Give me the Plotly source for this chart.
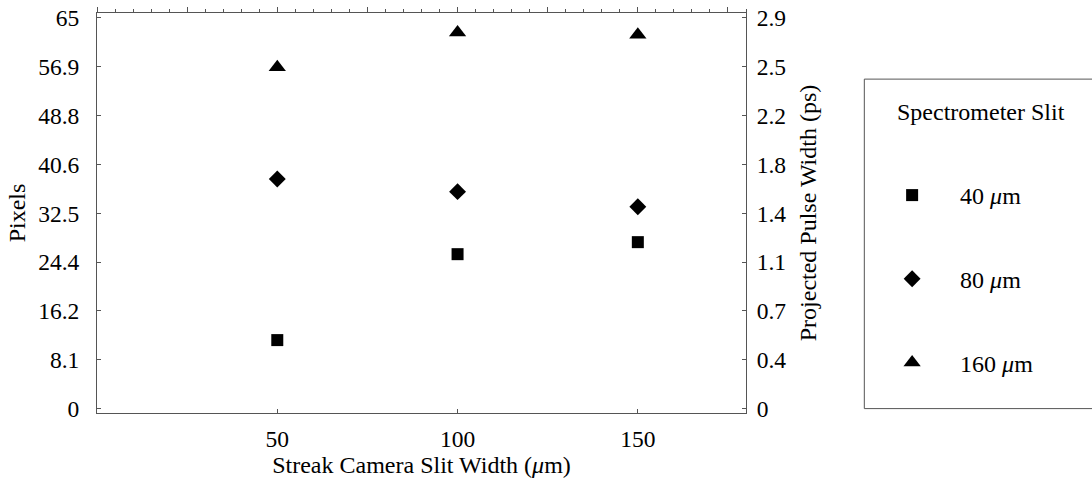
import plotly.graph_objects as go

# Streak camera slit widths (µm)
slit_width = [50, 100, 150]

# Measured widths in pixels for each spectrometer slit
pixels_40um = [11.4, 25.7, 27.7]
pixels_80um = [38.2, 36.1, 33.6]
pixels_160um = [56.8, 62.6, 62.2]

series_names = ["40 <i>μ</i>m", "80 <i>μ</i>m", "160 <i>μ</i>m"]
series_symbols = ["square", "diamond", "triangle-up"]
series_sizes = [12, 13, 15]

# Left axis ticks (pixels) and matching right axis labels (ps)
pixel_ticks = [0, 8.125, 16.25, 24.375, 32.5, 40.625, 48.75, 56.875, 65]
pixel_tick_text = ["0", "8.1", "16.2", "24.4", "32.5", "40.6", "48.8", "56.9", "65"]
ps_tick_text = ["0", "0.4", "0.7", "1.1", "1.4", "1.8", "2.2", "2.5", "2.9"]

FONT = "Liberation Serif"
AX = "#555555"
YRANGE = [-0.73, 65.83]
XRANGE = [0, 180]
TICK_FONT = dict(family=FONT, size=23.5, color="black")
TITLE_FONT = dict(family=FONT, size=24, color="black")
LEGEND_FONT = dict(family=FONT, size=24, color="black")

fig = go.Figure()

for i, (name, vals) in enumerate(zip(series_names, [pixels_40um, pixels_80um, pixels_160um])):
    fig.add_trace(go.Scatter(
        x=slit_width, y=vals, mode="markers", name=name,
        legendgroup=f"g{i}",
        marker=dict(symbol=series_symbols[i], size=series_sizes[i], color="black",
                    line=dict(width=0)),
    ))

# empty trace so the top/right axes get their own subplot
fig.add_trace(go.Scatter(x=[], y=[], xaxis="x2", yaxis="y2", showlegend=False,
                         hoverinfo="skip"))

fig.update_layout(
    width=1092, height=485,
    margin=dict(l=97, r=346.3, t=13.3, b=72.3, autoexpand=False),
    paper_bgcolor="white", plot_bgcolor="white",
    font=dict(family=FONT, size=24, color="black"),
    showlegend=True,
    xaxis=dict(
        range=XRANGE, tickvals=slit_width, ticks="inside", ticklen=4, tickcolor=AX,
        showline=True, linecolor=AX, linewidth=1, showgrid=False, zeroline=False,
        tickfont=TICK_FONT,
        title=dict(text="Streak Camera Slit Width (<i>μ</i>m)", standoff=4, font=TITLE_FONT),
        ticklabelstandoff=5,
    ),
    xaxis2=dict(
        range=XRANGE, overlaying="x", side="top", anchor="y",
        tickvals=list(range(0, 181, 25)), ticks="outside", ticklen=5, tickcolor=AX,
        minor=dict(dtick=5, tick0=0, ticks="outside", ticklen=3, tickcolor=AX),
        showticklabels=False, showline=True, linecolor=AX, linewidth=1,
        showgrid=False, zeroline=False,
    ),
    yaxis=dict(
        range=YRANGE, tickvals=pixel_ticks, ticktext=pixel_tick_text,
        ticks="inside", ticklen=4, tickcolor=AX, tickfont=TICK_FONT,
        showline=True, linecolor=AX, linewidth=1, showgrid=False, zeroline=False,
        title=dict(text="Pixels", standoff=5, font=TITLE_FONT), ticklabelstandoff=12,
    ),
    yaxis2=dict(
        range=YRANGE, overlaying="y", side="right", anchor="x",
        tickvals=pixel_ticks, ticktext=ps_tick_text,
        ticks="inside", ticklen=4, tickcolor=AX, tickfont=TICK_FONT,
        showline=True, linecolor=AX, linewidth=1, showgrid=False, zeroline=False,
        title=dict(text="Projected Pulse Width (ps)", standoff=13, font=TITLE_FONT),
        ticklabelstandoff=5,
    ),
    legend=dict(
        x=1.182, y=0.600, xanchor="left", yanchor="top",
        bgcolor="rgba(0,0,0,0)", borderwidth=0,
        itemwidth=86, tracegroupgap=49.5,
        font=LEGEND_FONT,
    ),
    shapes=[dict(
        type="rect", xref="paper", yref="paper",
        x0=1.1823, x1=1.7, y0=0.0110, y1=0.8347,
        line=dict(color=AX, width=1), fillcolor="rgba(0,0,0,0)",
    )],
    annotations=[dict(
        text="Spectrometer Slit", xref="paper", yref="paper",
        x=1.229, y=0.753, xanchor="left", yanchor="middle", showarrow=False,
        font=LEGEND_FONT,
    )],
)

fig.write_html("out.html")
